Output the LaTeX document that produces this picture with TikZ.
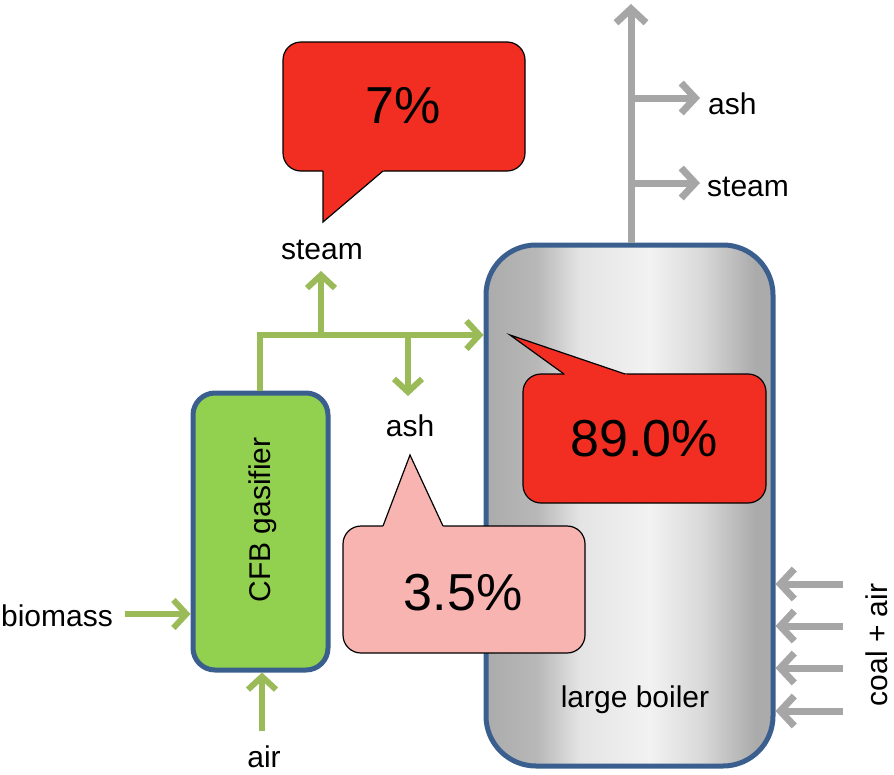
\documentclass[tikz,border=0pt]{standalone}
\usepackage{fontspec}
\setmainfont{Liberation Sans}
\usetikzlibrary{arrows.meta}
\definecolor{gfill}{HTML}{92D050}
\definecolor{bord}{HTML}{3A5F8E}
\definecolor{garr}{HTML}{9BBB59}
\definecolor{grayarr}{HTML}{A6A6A6}
\definecolor{cred}{HTML}{F22E22}
\definecolor{cpink}{HTML}{F8B4B0}
\definecolor{bgA}{HTML}{ABABAB}
\definecolor{bgB}{HTML}{B8B8B8}
\definecolor{bgC}{HTML}{E4E4E4}
\definecolor{bgD}{HTML}{F2F2F2}
\definecolor{bgE}{HTML}{DADADA}
\pgfdeclarehorizontalshading{boilershade}{100bp}{color(0bp)=(bgA); color(25bp)=(bgA); color(33.9bp)=(bgB); color(41.4bp)=(bgC); color(53.6bp)=(bgD); color(62.3bp)=(bgE); color(71.9bp)=(bgA); color(100bp)=(bgA)}
\tikzset{
  lbl/.style={font=\fontsize{30}{34}\selectfont, inner sep=0pt},
  pct/.style={font=\fontsize{52}{58}\selectfont},
  callbox/.style={draw=black, line width=1.2pt, rounded corners=18pt, inner sep=0pt},
  tailline/.style={draw=black, line width=1.2pt, line join=miter},
  garrow/.style={draw=garr, line width=6pt, -{Straight Barb[length=13pt,width=28pt]}},
  gline/.style={draw=garr, line width=6pt},
  grarrow/.style={draw=grayarr, line width=7pt, -{Straight Barb[length=14pt,width=30pt]}},
}
\begin{document}
\begin{tikzpicture}[x=1pt,y=-1pt]
\useasboundingbox (0,0) rectangle (894,774);

% boiler
\node[draw=bord, line width=5pt, rounded corners=50pt, shading=boilershade,
      minimum width=287pt, minimum height=521pt, inner sep=0pt] (boiler) at (629.5,505.5) {};
\node[lbl] (boilerlbl) at (635,700) {large boiler};

% gasifier
\node[draw=bord, line width=5pt, rounded corners=22pt, fill=gfill,
      minimum width=135pt, minimum height=277pt, inner sep=0pt] (gas) at (260.5,531.5) {};
\node[lbl, rotate=90] (gaslbl) at (263,520) {CFB gasifier};

% green flows
\coordinate (j1) at (260,335);
\coordinate (jsteam) at (321,335);
\coordinate (jash) at (408,335);
\draw[gline, line join=miter] (gas.north -| j1) -- (j1) -- (jsteam);
\draw[garrow] (j1) -- (boiler.west |- j1);
\node[lbl] (steamg) at (322,250) {steam};
\node[lbl] (ashg) at (410,426) {ash};
\draw[garrow] (jsteam) -- (321,271);
\draw[garrow] (jash) -- (408,396);

\node[lbl, anchor=east] (biomass) at (113,616) {biomass};
\coordinate (bmstart) at (125,614);
\draw[garrow] (bmstart) -- (gas.west |- bmstart);
\node[lbl] (air) at (264,757) {air};
\coordinate (airstart) at (262,731);
\draw[garrow] (airstart) -- (gas.south -| airstart);

% gray flows
\coordinate (topend) at (631,4);
\draw[grarrow] (boiler.north -| topend) -- (topend);
\coordinate (bash) at (631,98);
\coordinate (bsteam) at (631,183);
\node[lbl, anchor=west] (ashgr) at (708,104) {ash};
\node[lbl, anchor=west] (steamgr) at (707,187) {steam};
\draw[grarrow] (bash) -- (700,98);
\draw[grarrow] (bsteam) -- (700,183);

\node[lbl, rotate=90, anchor=base, text depth=0pt] (coal) at (887,645) {coal + air};
\foreach \yy [count=\i] in {584,626,668,711}{
  \coordinate (cs\i) at (843,\yy);
  \draw[grarrow] (cs\i) -- (boiler.east |- cs\i);
}

% callout 7%
\node[callbox, fill=cred, minimum width=242pt, minimum height=129pt] (c7) at (404,106.5) {};
\fill[cred] (323,168) -- (323,222) -- (386.5,168) -- cycle;
\draw[tailline] (323,171) -- (323,222) -- (383,171);
\node[pct] (t7) at (403,106) {7\%};

% callout 89.0%
\node[callbox, fill=cred, minimum width=243pt, minimum height=129pt] (c89) at (644.5,438.5) {};
\fill[cred] (568.2,377) -- (510,335) -- (633.8,377) -- cycle;
\draw[tailline] (564,374) -- (510,335) -- (625,374);
\node[pct] (t89) at (644,439) {89.0\%};

% callout 3.5%
\node[callbox, fill=cpink, minimum width=242pt, minimum height=127pt] (c35) at (464,589.5) {};
\fill[cpink] (381.9,529) -- (410,455) -- (444.4,529) -- cycle;
\draw[tailline] (383,526) -- (410,455) -- (443,526);
\node[pct] (t35) at (463,593) {3.5\%};
\end{tikzpicture}
\end{document}
